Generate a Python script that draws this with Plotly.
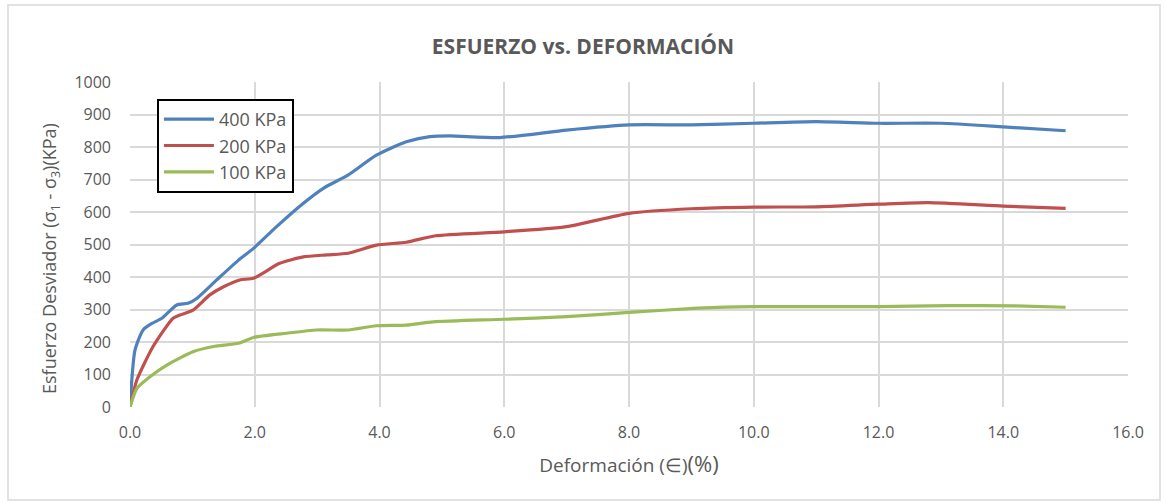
import plotly.graph_objects as go

x_400 = [0, 0.08, 0.21, 0.35, 0.51, 0.75, 0.93, 1.07, 1.39, 1.74, 1.98, 2.35, 2.78, 3.1, 3.5, 3.95,
         4.43, 4.81, 5.13, 5.93, 7.0, 8.0, 9.0, 10.0, 11.0, 12.0, 13.0, 14.0, 15.0]
y_400 = [0, 175, 237, 257, 273, 314, 319, 334, 391, 452, 488, 555, 627, 673, 714, 775,
         816, 832, 834, 829, 852, 868, 868, 873, 878, 873, 873, 862, 850]

x_200 = [0, 0.11, 0.37, 0.69, 0.80, 1.01, 1.28, 1.5, 1.76, 1.98, 2.4, 2.78, 3.15, 3.5, 3.95,
         4.43, 4.9, 6.0, 7.0, 8.0, 9.0, 10.0, 11.0, 12.0, 12.8, 14.0, 15.0]
y_200 = [0, 83, 186, 273, 283, 298, 345, 370, 391, 396, 442, 462, 468, 473, 498,
         507, 527, 539, 555, 596, 610, 615, 616, 624, 629, 618, 611]

x_100 = [0, 0.11, 0.32, 0.59, 1.01, 1.34, 1.74, 1.98, 2.51, 2.99, 3.5, 3.95, 4.43, 4.86,
         6.0, 7.0, 8.0, 9.1, 10.0, 12.0, 13.1, 14.2, 15.0]
y_100 = [0, 57, 93, 129, 170, 186, 196, 214, 227, 237, 237, 250, 252, 262,
         270, 278, 291, 304, 309, 309, 312, 311, 307]

series = [
    ("400 KPa", x_400, y_400, "#4F81BD"),
    ("200 KPa", x_200, y_200, "#C0504D"),
    ("100 KPa", x_100, y_100, "#9BBB59"),
]

x_ticks = [0, 2, 4, 6, 8, 10, 12, 14, 16]
y_ticks = list(range(0, 1001, 100))

FONT = "Open Sans"
GRAY = "#595959"

fig = go.Figure()
for name, xs, ys, col in series:
    fig.add_trace(go.Scatter(x=xs, y=ys, name=name, mode="lines",
                             line=dict(color=col, width=3.2, shape="spline", smoothing=0.6)))

fig.update_layout(
    width=1166, height=503,
    margin=dict(l=130, r=38, t=82, b=96, autoexpand=False),
    paper_bgcolor="white", plot_bgcolor="white",
    font=dict(family=FONT, color=GRAY, size=16),
    title=dict(text="<b>ESFUERZO vs. DEFORMACIÓN</b>", x=0.5, xanchor="center",
               y=1 - 47 / 503, yanchor="middle", font=dict(size=21, color=GRAY, family=FONT)),
    showlegend=True,
    legend=dict(x=0.027, y=0.948, xanchor="left", yanchor="top",
                bgcolor="white", bordercolor="black", borderwidth=2,
                itemwidth=50,
                font=dict(size=18, color=GRAY, family=FONT)),
    xaxis=dict(range=[0, 16], tickvals=x_ticks, tickformat=".1f",
               showgrid=True, gridcolor="#d9d9d9", gridwidth=2, zeroline=False,
               showline=False, ticks="", ticklabelstandoff=14,
               tickfont=dict(size=16, color=GRAY),
               title=dict(text="Deformación (∈)<span style='font-size:22px'>(%)</span>",
                          font=dict(size=19, color=GRAY), standoff=16)),
    yaxis=dict(range=[0, 1000], tickvals=y_ticks,
               showgrid=True, gridcolor="#d9d9d9", gridwidth=2, zeroline=False,
               showline=False, ticks="", ticklabelstandoff=18,
               tickfont=dict(size=16, color=GRAY)),
)

fig.add_annotation(text="Esfuerzo Desviador (σ<sub>1</sub> - σ<sub>3</sub>)(KPa)",
                   xref="paper", yref="paper", x=(50 - 130) / 998, y=(407 - 259) / 325,
                   xanchor="center", yanchor="middle", textangle=-90, showarrow=False,
                   font=dict(size=18, color=GRAY, family=FONT))

fig.add_shape(type="rect", xref="paper", yref="paper",
              x0=(8 - 130) / 998, x1=(1160 - 130) / 998,
              y0=(407 - 500) / 325, y1=(407 - 5) / 325,
              line=dict(color="#d9d9d9", width=1.5), layer="below")

fig.write_html("out.html", config={"displayModeBar": False},
               post_script="document.body.style.margin='0';")
